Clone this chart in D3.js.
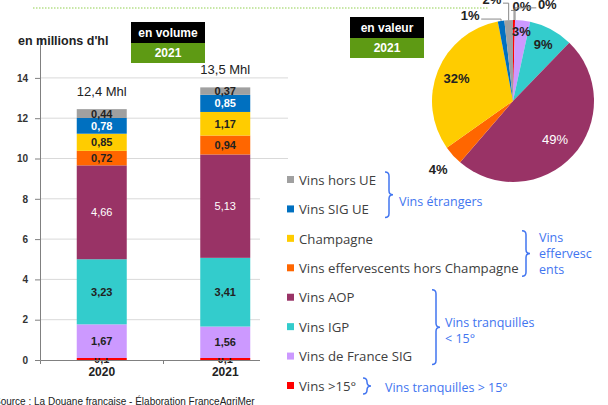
<!DOCTYPE html>
<html>
<head>
<meta charset="utf-8">
<script src="https://cdn.jsdelivr.net/npm/d3@7"></script>
<style>
  body { margin: 0; background: #fff; }
  svg { display: block; font-family: "Liberation Sans", Arial, sans-serif; }
</style>
</head>
<body>
<div id="chart"></div>
<script>
// bottom to top in the stack, clockwise from 12 o'clock in the pie
const series = ["Vins >15°", "Vins de France SIG", "Vins IGP", "Vins AOP",
  "Vins effervescents hors Champagne", "Champagne", "Vins SIG UE", "Vins hors UE"];
const years = ["2020", "2021"];
const vol2020 = [0.1, 1.67, 3.23, 4.66, 0.72, 0.85, 0.78, 0.44];
const vol2021 = [0.1, 1.56, 3.41, 5.13, 0.94, 1.17, 0.85, 0.37];
const totals = ["12,4 Mhl", "13,5 Mhl"];
const yTicks = [0, 2, 4, 6, 8, 10, 12, 14];
// share of value 2021 (%) ; second entry is the unnamed 0% slice
const pieNames = ["Vins >15°", "autre", "Vins de France SIG", "Vins IGP", "Vins AOP",
  "Vins effervescents hors Champagne", "Champagne", "Vins SIG UE", "Vins hors UE"];
const pieShares = [0.4, 0, 3.0, 8.8, 49.0, 3.9, 31.7, 1.3, 1.7];
const groups = [
  { label: ["Vins étrangers"], from: "Vins hors UE", to: "Vins SIG UE" },
  { label: ["Vins", "effervesc", "ents"], from: "Champagne", to: "Vins effervescents hors Champagne" },
  { label: ["Vins tranquilles", "< 15°"], from: "Vins AOP", to: "Vins de France SIG" },
  { label: ["Vins tranquilles > 15°"], from: "Vins >15°", to: "Vins >15°" }
];

const colors = ["#ff0000", "#cc99ff", "#33cccc", "#993366", "#ff6600", "#ffcc00", "#0070c0", "#a0a0a0"];
const labelColors = ["#222", "#222", "#222", "#fff", "#222", "#222", "#fff", "#222"];
const color = d3.scaleOrdinal().domain(series).range(colors);

const w = 608, h = 405;
const svg = d3.select("#chart").append("svg").attr("width", w).attr("height", h);

// dotted line at the top
svg.append("line").attr("x1", 33).attr("x2", 488).attr("y1", 8).attr("y2", 8)
  .attr("stroke", "#92d050").attr("stroke-width", 1.2).attr("stroke-dasharray", "1.5,1.5");

// ---------- stacked bars ----------
const y = d3.scaleLinear().domain([0, 16]).range([360, 37.6]);
const x = d3.scaleBand().domain(years).range([40, 287]);
const barW = 50;

svg.append("g").selectAll("line").data(yTicks.slice(1)).enter().append("line")
  .attr("x1", 40).attr("x2", 288)
  .attr("y1", d => y(d)).attr("y2", d => y(d))
  .attr("stroke", "#d9d9d9");

const table = years.map((yr, i) => {
  const row = { year: yr };
  const vals = i === 0 ? vol2020 : vol2021;
  series.forEach((s, j) => row[s] = vals[j]);
  return row;
});
const stacked = d3.stack().keys(series)(table);

const layers = svg.append("g").selectAll("g").data(stacked).enter().append("g")
  .attr("fill", d => color(d.key));
layers.selectAll("rect").data(d => d).enter().append("rect")
  .attr("x", d => x(d.data.year) + x.bandwidth() / 2 - barW / 2)
  .attr("width", barW)
  .attr("y", d => y(d[1]))
  .attr("height", d => y(d[0]) - y(d[1]));

layers.each(function (layer, li) {
  d3.select(this).selectAll("text").data(layer).enter().append("text")
    .attr("x", d => x(d.data.year) + x.bandwidth() / 2)
    .attr("y", d => y((d[0] + d[1]) / 2))
    .attr("dy", "0.36em")
    .attr("text-anchor", "middle")
    .attr("font-size", 11)
    .attr("font-weight", layer.key === "Vins AOP" ? "normal" : "bold")
    .attr("fill", labelColors[li])
    .text(d => d3.format(".2~f")(d[1] - d[0]).replace(".", ","));
});

svg.append("g").selectAll("text").data(table).enter().append("text")
  .attr("x", d => x(d.year) + x.bandwidth() / 2)
  .attr("y", d => y(d3.sum(series, s => d[s])) - 13)
  .attr("text-anchor", "middle")
  .attr("font-size", 13)
  .attr("fill", "#222")
  .text((d, i) => totals[i]);

const yAxis = svg.append("g").attr("transform", "translate(40,0)")
  .call(d3.axisLeft(y).tickValues(yTicks).tickSize(5).tickSizeOuter(0).tickPadding(7));
yAxis.selectAll("path, line").attr("stroke", "#808080");
yAxis.selectAll("text").attr("font-size", 10).attr("font-weight", "bold").attr("fill", "#333")
  .attr("font-family", "Liberation Sans, Arial, sans-serif");

const xAxis = svg.append("g").attr("transform", "translate(0,360)")
  .call(d3.axisBottom(x).tickSizeInner(0).tickSizeOuter(4).tickPadding(7));
xAxis.selectAll("path").attr("stroke", "#808080");
xAxis.selectAll("text").attr("font-size", 12).attr("font-weight", "bold").attr("fill", "#222")
  .attr("font-family", "Liberation Sans, Arial, sans-serif");
xAxis.selectAll("line.mid").data(years.slice(1)).enter().append("line").attr("class", "mid")
  .attr("x1", d => x(d)).attr("x2", d => x(d)).attr("y1", 0).attr("y2", 4).attr("stroke", "#808080");

svg.append("text").attr("x", 18).attr("y", 45)
  .attr("font-size", 12.5).attr("font-weight", "bold").attr("fill", "#222")
  .text("en millions d'hl");

// title boxes
function tagBox(x0, y0, top) {
  const g = svg.append("g").attr("transform", `translate(${x0},${y0})`);
  g.append("rect").attr("width", 74).attr("height", 21).attr("fill", "#000");
  g.append("rect").attr("y", 21).attr("width", 74).attr("height", 20).attr("fill", "#5e9a14");
  g.append("text").attr("x", 37).attr("y", 15).attr("text-anchor", "middle")
    .attr("fill", "#fff").attr("font-size", 12).attr("font-weight", "bold").text(top);
  g.append("text").attr("x", 37).attr("y", 35).attr("text-anchor", "middle")
    .attr("fill", "#fff").attr("font-size", 12).attr("font-weight", "bold").text("2021");
}
tagBox(131, 22, "en volume");
tagBox(350, 17, "en valeur");

// ---------- legend ----------
svg.append("rect").attr("x", 260).attr("y", 170).attr("width", 348).attr("height", 235).attr("fill", "#fff");

const legendOrder = series.slice().reverse();
const ly = d3.scalePoint().domain(legendOrder).range([180, 386]);
const legend = svg.append("g").selectAll("g").data(legendOrder).enter().append("g")
  .attr("transform", d => `translate(287,${ly(d)})`);
legend.append("rect").attr("y", -4).attr("width", 7).attr("height", 7).attr("fill", d => color(d));
legend.append("text").attr("x", 12).attr("dy", "0.36em")
  .attr("font-family", "Open Sans, sans-serif").attr("font-size", 13.2).attr("fill", "#404040")
  .text(d => d);

const braceX = [385, 522, 432, 363];
const braceGap = [14, 17, 13, 22];
const blue = "#4275f0";
groups.forEach((g, i) => {
  const y0 = ly(g.from) - 8, y1 = ly(g.to) + 8, xm = braceX[i], ym = (y0 + y1) / 2;
  svg.append("path")
    .attr("d", `M${xm},${y0} q4,0 4,4 V${ym - 4} q0,4 4,4 q-4,0 -4,4 V${y1 - 4} q0,4 -4,4`)
    .attr("fill", "none").attr("stroke", blue).attr("stroke-width", 1.5);
  const t = svg.append("text").attr("fill", blue)
    .attr("font-family", "Open Sans, sans-serif").attr("font-size", 12.5);
  g.label.forEach((line, k) => {
    t.append("tspan").attr("x", xm + braceGap[i])
      .attr("y", ym + 4 + (k - (g.label.length - 1) / 2) * 16 + (g.label.length === 2 ? 4 : 0) + (i === 0 ? 7 : 0) + (i === 3 ? 2 : 0))
      .text(line);
  });
});

// ---------- pie ----------
const R = 81;
const pg = svg.append("g").attr("transform", "translate(513,101)");
const arcs = d3.pie().sort(null).value(d => d)(pieShares);
const arc = d3.arc().innerRadius(0).outerRadius(R);
pg.selectAll("path").data(arcs).enter().append("path")
  .attr("d", arc).attr("fill", (d, i) => color(pieNames[i]));

// label placement: radius, angle shift (deg)
const labelR = [95, 103, 70, 64, 57, 101, 61, 96, 104];
const labelShift = [4.7, 18, 0, 0, 0, 0, 0, -18, -8.6];
const polar = (r, a) => [r * Math.sin(a), -r * Math.cos(a)];
arcs.forEach((d, i) => {
  const mid = (d.startAngle + d.endAngle) / 2;
  const [lx, ly2] = polar(labelR[i], mid + labelShift[i] * Math.PI / 180);
  const outside = labelR[i] > R && i !== 5;
  if (outside) {
    const [ex, ey] = polar(R, mid);
    const side = lx < ex ? 1 : -1;
    pg.append("polyline")
      .attr("points", [[ex, ey], [ex, ly2 + 4], [lx + side * 11, ly2 + 4]].map(p => p.join(",")).join(" "))
      .attr("fill", "none").attr("stroke", "#888").attr("stroke-width", 1);
  }
  pg.append("text").attr("x", lx).attr("y", ly2).attr("dy", "0.36em")
    .attr("text-anchor", "middle").attr("font-size", 13)
    .attr("font-weight", pieNames[i] === "Vins AOP" ? "normal" : "bold")
    .attr("fill", pieNames[i] === "Vins AOP" ? "#fff" : "#222")
    .text(Math.round(pieShares[i]) + "%");
});

// source
svg.append("text").attr("x", -6).attr("y", 405).attr("font-size", 10).attr("fill", "#222")
  .text("Source : La Douane française - Élaboration FranceAgriMer");
</script>
</body>
</html>
